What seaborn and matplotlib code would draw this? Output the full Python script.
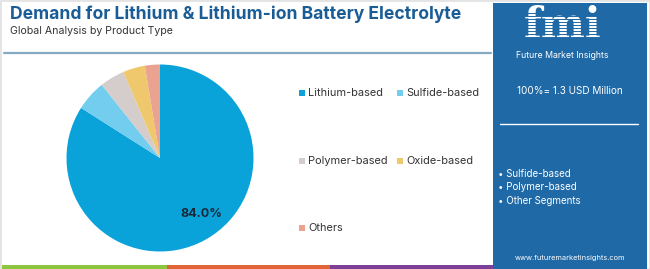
import matplotlib
matplotlib.use("Agg")
import matplotlib.pyplot as plt
import seaborn as sns
from matplotlib.patches import Rectangle
from matplotlib.lines import Line2D

# ---- data ----
categories = ["Lithium-based", "Sulfide-based", "Polymer-based", "Oxide-based", "Others"]
shares = [84.0, 5.3, 4.3, 3.8, 2.6]
colors = ["#0aa3d9", "#72cdef", "#d5cdcb", "#efc86e", "#eba391"]
title = "Demand for Lithium & Lithium-ion Battery Electrolyte"
subtitle = "Global Analysis by Product Type"
panel_total = "100%= 1.3 USD Million"
panel_bullets = ["• Sulfide-based", "• Polymer-based", "• Other Segments"]
website = "www.futuremarketinsights.com"

sns.set_theme(style="white")
plt.rcParams["font.family"] = ["Inter", "DejaVu Sans"]

W, H = 650, 269
fig = plt.figure(figsize=(W / 100, H / 100), dpi=100)
fig.patch.set_facecolor("white")

def fx(x):
    return x / W

def fy(y):
    return 1 - y / H

# outer light border
fig.patches.append(Rectangle((0, 0), 1, 1, transform=fig.transFigure, fill=False,
                             edgecolor="#e3e3e3", linewidth=2))

# title & subtitle
fig.text(fx(10), fy(14), title, fontsize=12.6, fontweight="bold", color="#1a5d96",
         va="center", ha="left")
fig.text(fx(10), fy(31), subtitle, fontsize=7.6, color="#333333", va="center", ha="left")

# top divider line
fig.lines.append(Line2D([fx(4), fx(491)], [fy(53), fy(53)], transform=fig.transFigure,
                        color="#86aac4", linewidth=1.6))

# bottom colored bars
for x0, x1, c in [(2, 167, "#8cc63f"), (167, 330, "#e0663a"), (330, 494, "#7e3f98")]:
    fig.patches.append(Rectangle((fx(x0), 0), fx(x1) - fx(x0), 4 / H, transform=fig.transFigure,
                                 facecolor=c, edgecolor="none"))

# pie
cx, cy, r = 160, 158, 93.5
ax = fig.add_axes([fx(cx - r), fy(cy + r), 2 * r / W, 2 * r / H])
wedges, texts, autotexts = ax.pie(
    shares, colors=colors, startangle=90, counterclock=False,
    autopct=lambda p: f"{p:.1f}%" if p > 50 else "", pctdistance=0.74,
    wedgeprops=dict(linewidth=0),
    textprops=dict(fontsize=9, fontweight="bold", color="#1b2838"))
autotexts[0].set_position((0.44, -0.60))
ax.set_xlim(-1, 1)
ax.set_ylim(-1, 1)
ax.set_aspect("equal")
ax.axis("off")

# legend (2 columns)
legend_pos = [(302, 93), (400, 93), (302, 161), (400, 161), (302, 228)]
for (lx, ly), name, c in zip(legend_pos, categories, colors):
    fig.patches.append(Rectangle((fx(lx - 3), fy(ly + 3)), 6 / W, 6 / H, transform=fig.transFigure,
                                 facecolor=c, edgecolor="none"))
    fig.text(fx(lx + 6), fy(ly), name, fontsize=7.9, color="#333333", va="center", ha="left")

# right panel
panel_color = "#1f69a6"
fig.patches.append(Rectangle((fx(493), 0), fx(647) - fx(493), fy(3), transform=fig.transFigure,
                             facecolor=panel_color, edgecolor="none"))
fig.text(fx(563), fy(26), "fmi", fontsize=30, fontweight="bold", family="DejaVu Serif",
         color="white", ha="center", va="center", zorder=3)
for yy in range(13, 42, 3):
    fig.lines.append(Line2D([fx(510), fx(617)], [fy(yy), fy(yy)], transform=fig.transFigure,
                            color=panel_color, linewidth=0.7, zorder=4))
fig.text(fx(562), fy(55), "Future Market Insights", fontsize=6.3, color="white",
         ha="center", va="center")
fig.text(fx(570), fy(91), panel_total, fontsize=7.2, color="white", ha="center", va="center")
fig.lines.append(Line2D([fx(500), fx(638)], [fy(124), fy(124)], transform=fig.transFigure,
                        color="white", linewidth=1))
for i, b in enumerate(panel_bullets):
    fig.text(fx(498), fy(174 + 13.5 * i), b, fontsize=7.0, color="white", ha="left", va="center")
fig.text(fx(570), fy(258), website, fontsize=5.3, color="white", ha="center", va="center")

fig.savefig("out.png", dpi=100)
